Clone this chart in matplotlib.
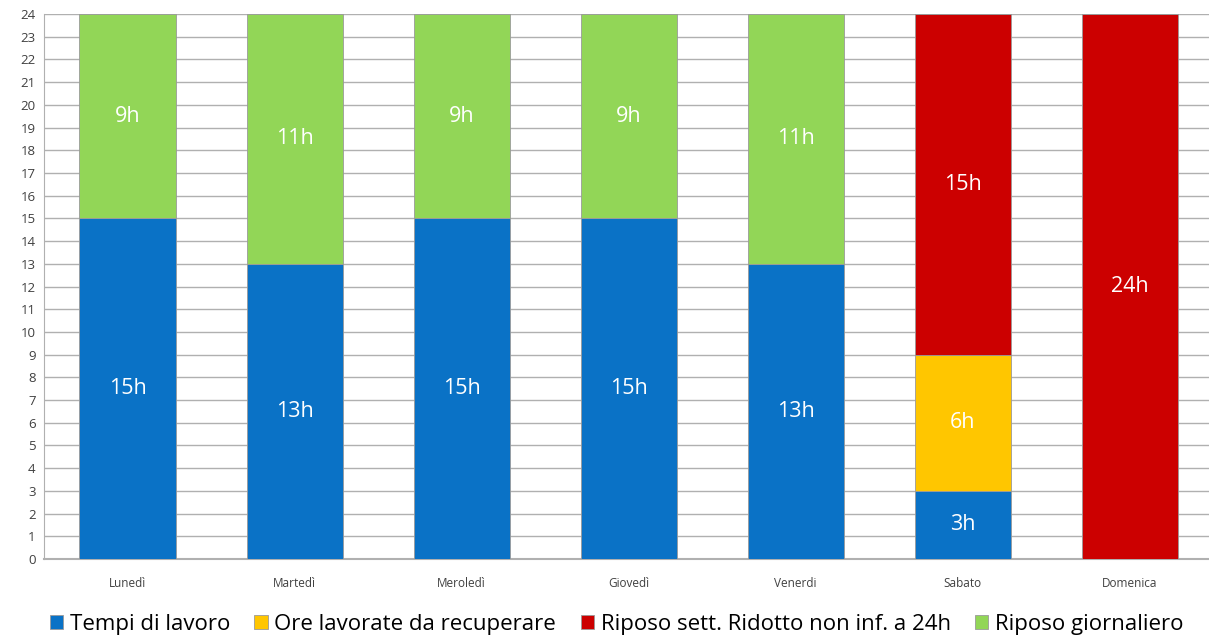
import matplotlib.pyplot as plt
import numpy as np

# data
days = ['Lunedì', 'Martedì', 'Meroledì', 'Giovedì', 'Venerdi', 'Sabato', 'Domenica']
lavoro = [15, 13, 15, 15, 13, 3, 0]
recupero = [0, 0, 0, 0, 0, 6, 0]
riposo_sett = [0, 0, 0, 0, 0, 15, 24]
riposo_giorn = [9, 11, 9, 9, 11, 0, 0]

series = [
    ('Tempi di lavoro', lavoro, '#0A72C6'),
    ('Ore lavorate da recuperare', recupero, '#FFC600'),
    ('Riposo sett. Ridotto non inf. a 24h', riposo_sett, '#CC0000'),
    ('Riposo giornaliero', riposo_giorn, '#92D657'),
]

plt.rcParams['font.family'] = ['Open Sans', 'DejaVu Sans']

fig = plt.figure(figsize=(12.09, 6.36), dpi=100)
ax = fig.add_axes([0.0364, 0.121, 0.967, 0.857])

x = np.arange(len(days))
bottom = np.zeros(len(days))
for name, vals, col in series:
    vals = np.array(vals, dtype=float)
    ax.bar(x, vals, bottom=bottom, width=0.575, color=col, edgecolor='#9a9a9a',
           linewidth=0.6, label=name, zorder=3)
    for xi, v, b in zip(x, vals, bottom):
        if v > 0:
            ax.text(xi, b + v / 2, f'{int(v)}h', ha='center', va='center',
                    color='white', fontsize=15.5, zorder=4)
    bottom += vals

ax.set_xlim(-0.5, len(days) - 0.5)
ax.set_ylim(0, 24)
ax.set_yticks(range(0, 25))
ax.set_xticks(x)
ax.set_xticklabels(days, fontsize=8.5, color='#404040')
ax.tick_params(axis='y', labelsize=9.5, colors='#404040', length=0, pad=6)
ax.tick_params(axis='x', length=0, pad=13)
ax.yaxis.grid(True, color='#b0b0b0', linewidth=1.0, zorder=0)
for s in ['top', 'right']:
    ax.spines[s].set_visible(False)
ax.spines['left'].set_color('#b0b0b0')
ax.spines['bottom'].set_color('#b0b0b0')
ax.spines['bottom'].set_linewidth(1.5)

fig.legend(loc='lower center', bbox_to_anchor=(0.51, -0.03), ncol=4, frameon=False,
           fontsize=16, handlelength=0.6, handleheight=0.6, handletextpad=0.3,
           columnspacing=1.1)

fig.savefig('out.png', dpi=100)
